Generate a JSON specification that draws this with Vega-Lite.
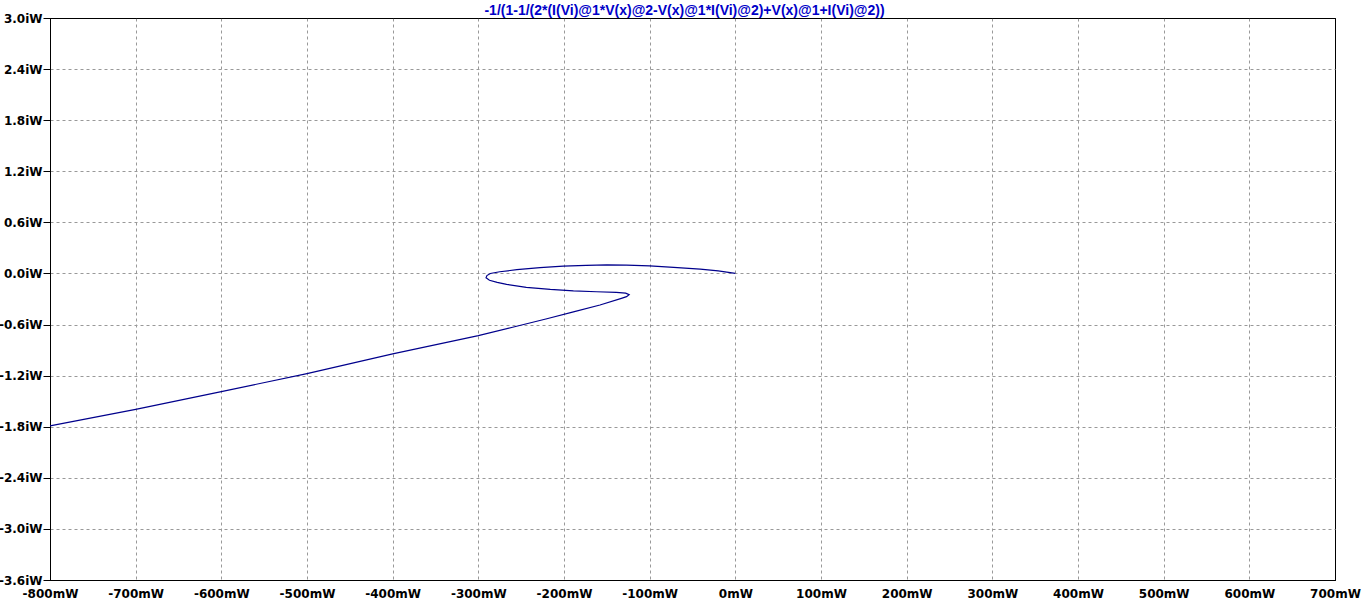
{
  "$schema": "https://vega.github.io/schema/vega-lite/v6.json",
  "width": 1285,
  "height": 562,
  "autosize": {"type": "none"},
  "padding": {"left": 50, "top": 18, "right": 27, "bottom": 26},
  "background": "white",
  "title": {
    "text": "-1/(1-1/(2*(I(Vi)@1*V(x)@2-V(x)@1*I(Vi)@2)+V(x)@1+I(Vi)@2))",
    "color": "#0000c8",
    "font": "Liberation Sans",
    "fontSize": 14,
    "fontWeight": "bold",
    "anchor": "middle",
    "offset": 4,
    "dx": -8,
    "dy": 10
  },
  "config": {
    "view": {"stroke": "black", "strokeWidth": 1},
    "axis": {
      "labelFont": "DejaVu Sans",
      "labelFontSize": 12,
      "labelFontWeight": "bold",
      "labelColor": "black",
      "domainColor": "black",
      "domainWidth": 1,
      "tickColor": "black",
      "labelOverlap": false,
      "labelBound": false,
      "labelFlush": false,
      "title": null
    }
  },
  "data": {
    "values": [
      {"i": 0, "re": 0, "im": 0},
      {"i": 1, "re": -20, "im": 0.03},
      {"i": 2, "re": -41, "im": 0.051},
      {"i": 3, "re": -72, "im": 0.072},
      {"i": 4, "re": -100, "im": 0.09},
      {"i": 5, "re": -127, "im": 0.098},
      {"i": 6, "re": -150, "im": 0.1},
      {"i": 7, "re": -174, "im": 0.095},
      {"i": 8, "re": -201, "im": 0.086},
      {"i": 9, "re": -228, "im": 0.068},
      {"i": 10, "re": -255, "im": 0.044},
      {"i": 11, "re": -275, "im": 0.02},
      {"i": 12, "re": -286, "im": 0.0},
      {"i": 13, "re": -290, "im": -0.025},
      {"i": 14, "re": -291, "im": -0.05},
      {"i": 15, "re": -287, "im": -0.08},
      {"i": 16, "re": -278, "im": -0.105},
      {"i": 17, "re": -267, "im": -0.128},
      {"i": 18, "re": -244, "im": -0.163},
      {"i": 19, "re": -216, "im": -0.188},
      {"i": 20, "re": -189, "im": -0.205},
      {"i": 21, "re": -162, "im": -0.215},
      {"i": 22, "re": -139, "im": -0.222},
      {"i": 23, "re": -128, "im": -0.232},
      {"i": 24, "re": -124, "im": -0.25},
      {"i": 25, "re": -127, "im": -0.272},
      {"i": 26, "re": -133, "im": -0.292},
      {"i": 27, "re": -158, "im": -0.37},
      {"i": 28, "re": -189, "im": -0.452},
      {"i": 29, "re": -220, "im": -0.532},
      {"i": 30, "re": -260, "im": -0.632},
      {"i": 31, "re": -300, "im": -0.73},
      {"i": 32, "re": -400, "im": -0.945},
      {"i": 33, "re": -500, "im": -1.176},
      {"i": 34, "re": -600, "im": -1.388},
      {"i": 35, "re": -700, "im": -1.596},
      {"i": 36, "re": -800, "im": -1.79}
    ]
  },
  "mark": {"type": "line", "color": "#00008c", "strokeWidth": 1.2, "interpolate": "linear"},
  "encoding": {
    "x": {
      "field": "re",
      "type": "quantitative",
      "scale": {"domain": [-800, 700], "nice": false, "zero": false},
      "axis": {
        "values": [-800, -700, -600, -500, -400, -300, -200, -100, 0, 100, 200, 300, 400, 500, 600, 700],
        "labelExpr": "datum.value + 'mW'",
        "grid": true,
        "gridColor": {"condition": {"test": "datum.value == 700 || datum.value == -800", "value": "black"}, "value": "#999999"},
        "gridDash": {"condition": {"test": "datum.value == 700 || datum.value == -800", "value": [1, 0]}, "value": [3, 3]},
        "ticks": false,
        "labelPadding": 8
      }
    },
    "y": {
      "field": "im",
      "type": "quantitative",
      "scale": {"domain": [-3.6, 3.0], "nice": false, "zero": false},
      "axis": {
        "values": [-3.6, -3.0, -2.4, -1.8, -1.2, -0.6, 0, 0.6, 1.2, 1.8, 2.4, 3.0],
        "labelExpr": "replace(format(datum.value, '.1f'), '\u2212', '-') + 'iW'",
        "grid": true,
        "gridColor": {"condition": {"test": "datum.value == 3 || datum.value == -3.6", "value": "black"}, "value": "#999999"},
        "gridDash": {"condition": {"test": "datum.value == 3 || datum.value == -3.6", "value": [1, 0]}, "value": [3, 3]},
        "ticks": true,
        "tickSize": 7,
        "labelPadding": 1
      }
    },
    "order": {"field": "i", "type": "quantitative"}
  }
}
